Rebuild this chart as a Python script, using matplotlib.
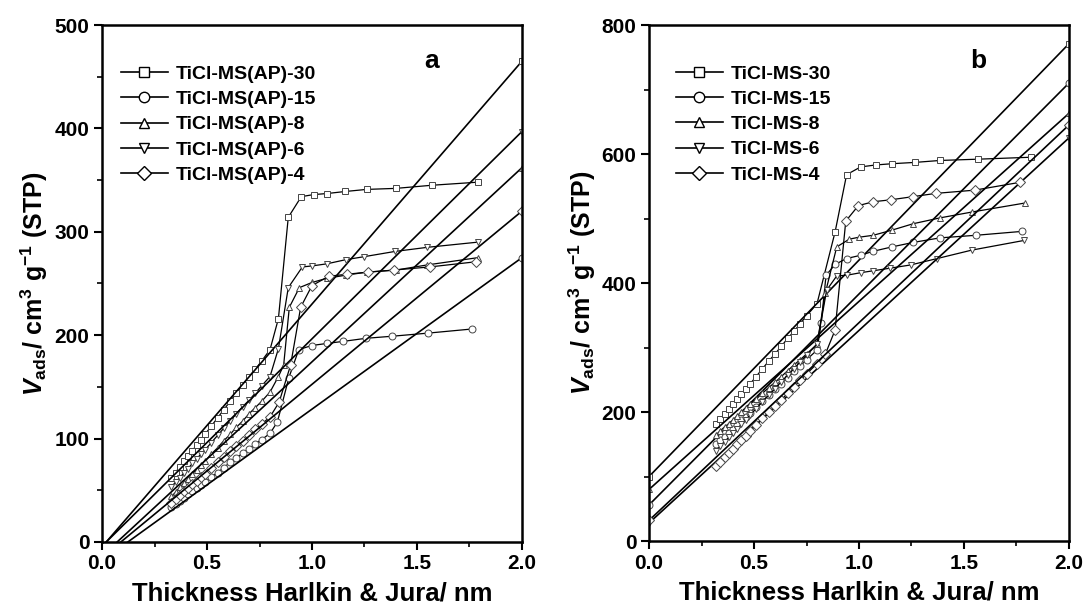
import matplotlib
matplotlib.use('Agg')
import matplotlib.pyplot as plt
from matplotlib.lines import Line2D
from matplotlib.ticker import MultipleLocator

plt.rcParams['font.family'] = ['Liberation Sans', 'DejaVu Sans']
plt.rcParams['font.weight'] = 'bold'
plt.rcParams['mathtext.fontset'] = 'custom'
plt.rcParams['mathtext.rm'] = 'Liberation Sans:bold'
plt.rcParams['mathtext.it'] = 'Liberation Sans:italic:bold'
plt.rcParams['mathtext.bf'] = 'Liberation Sans:bold'

markers = ['s', 'o', '^', 'v', 'D']
labels_a = ['TiCl-MS(AP)-30', 'TiCl-MS(AP)-15', 'TiCl-MS(AP)-8', 'TiCl-MS(AP)-6', 'TiCl-MS(AP)-4']
labels_b = ['TiCl-MS-30', 'TiCl-MS-15', 'TiCl-MS-8', 'TiCl-MS-6', 'TiCl-MS-4']

# ---- panel a: t-plot data (series order 30, 15, 8, 6, 4)
t_low_a = [0.33, 0.35, 0.37, 0.39, 0.41, 0.43, 0.45, 0.47, 0.49, 0.52,
           0.55, 0.58, 0.61, 0.64, 0.67, 0.70, 0.73, 0.76, 0.80]
a30_low = [62, 67, 73, 78, 83, 88, 94, 99, 104, 112, 120, 128, 136, 144, 152, 160, 167, 175, 186]
a30_t = [0.84, 0.887, 0.949, 1.008, 1.071, 1.159, 1.26, 1.40, 1.57, 1.79]
a30_v = [216, 314, 334, 336, 337, 339, 341, 342, 345, 348]
a15_low = [34, 37, 40, 43, 46, 49, 52, 55, 58, 63, 67, 72, 77, 81, 86, 90, 95, 99, 105]
a15_t = [0.835, 0.89, 0.937, 0.998, 1.07, 1.148, 1.257, 1.382, 1.552, 1.762]
a15_v = [116, 159, 186, 190, 192, 194, 197, 199, 202, 206]
a8_low = [44, 48, 53, 57, 61, 66, 70, 74, 78, 85, 91, 98, 104, 111, 117, 124, 130, 136, 145]
a8_t = [0.84, 0.865, 0.892, 0.94, 1.0, 1.07, 1.16, 1.26, 1.40, 1.55, 1.79]
a8_v = [160, 171, 227, 246, 251, 255, 258, 261, 263, 268, 275]
a6_low = [53, 58, 62, 67, 71, 76, 80, 85, 89, 96, 103, 110, 117, 124, 131, 137, 144, 151, 160]
a6_t = [0.84, 0.887, 0.954, 1.0, 1.07, 1.16, 1.25, 1.395, 1.55, 1.79]
a6_v = [187, 246, 266, 267, 269, 273, 276, 281, 285, 290]
a4_low = [38, 42, 45, 49, 52, 56, 59, 63, 66, 72, 77, 82, 88, 93, 98, 103, 109, 114, 121]
a4_t = [0.843, 0.898, 0.946, 1.0, 1.08, 1.168, 1.268, 1.39, 1.56, 1.78]
a4_v = [135, 171, 227, 248, 257, 259, 261, 263, 266, 271]
fit_x = [0.0, 2.0]
fit_a_start = [-4.7, -18, -13.5, -4, -15]
fit_a_end = [465, 275, 362, 397, 320]

# ---- panel b
t_low_b = [0.32, 0.34, 0.36, 0.38, 0.40, 0.42, 0.44, 0.46, 0.48, 0.51,
           0.54, 0.57, 0.60, 0.63, 0.66, 0.69, 0.72, 0.75, 0.80]
b30_low = [181, 189, 197, 204, 212, 220, 228, 236, 243, 255, 267, 279, 290, 302, 314, 325, 337, 349, 368]
b30_t = [0.886, 0.941, 1.008, 1.079, 1.159, 1.267, 1.386, 1.568, 1.819]
b30_v = [479, 568, 580, 583, 585, 587, 590, 592, 595]
b15_low = [150, 156, 162, 168, 174, 180, 187, 193, 199, 208, 217, 226, 235, 244, 253, 263, 272, 281, 296]
b15_t = [0.82, 0.843, 0.887, 0.941, 1.008, 1.065, 1.157, 1.259, 1.386, 1.557, 1.775]
b15_v = [338, 412, 429, 438, 443, 449, 456, 463, 470, 474, 480]
b8_low = [165, 171, 177, 182, 188, 194, 200, 206, 212, 220, 229, 238, 246, 255, 264, 273, 281, 290, 305]
b8_t = [0.84, 0.894, 0.954, 1.0, 1.068, 1.157, 1.259, 1.386, 1.537, 1.79]
b8_v = [385, 456, 468, 471, 474, 482, 492, 501, 510, 524]
b6_low = [140, 147, 154, 161, 168, 174, 181, 188, 195, 205, 216, 226, 236, 247, 257, 267, 278, 288, 305]
b6_t = [0.846, 0.894, 0.941, 1.008, 1.068, 1.148, 1.246, 1.373, 1.537, 1.786]
b6_v = [389, 411, 412, 416, 419, 423, 428, 438, 451, 466]
b4_low = [117, 123, 130, 137, 143, 150, 156, 163, 170, 180, 190, 200, 209, 219, 229, 239, 249, 259, 275]
b4_t = [0.84, 0.886, 0.937, 0.997, 1.068, 1.151, 1.259, 1.367, 1.552, 1.765]
b4_v = [290, 327, 496, 520, 526, 529, 534, 539, 544, 556]
fit_b_start = [100, 56, 80, 28, 32]
fit_b_end = [771, 710, 663, 625, 645]

series_a = [(a30_low, a30_t, a30_v), (a15_low, a15_t, a15_v), (a8_low, a8_t, a8_v),
            (a6_low, a6_t, a6_v), (a4_low, a4_t, a4_v)]
series_b = [(b30_low, b30_t, b30_v), (b15_low, b15_t, b15_v), (b8_low, b8_t, b8_v),
            (b6_low, b6_t, b6_v), (b4_low, b4_t, b4_v)]

fig = plt.figure(figsize=(10.89, 6.07), dpi=100)
ax_a = fig.add_axes([0.0937, 0.1071, 0.3856, 0.8517])
ax_b = fig.add_axes([0.5960, 0.1087, 0.3856, 0.8501])

mec = '#444444'


def draw_panel(ax, t_low, series, starts, ends, labels, ymax, ymajor, tag, legx):
    for m, (low, th, vh), y0, y1 in zip(markers, series, starts, ends):
        ax.plot(t_low + th, low + vh, color='black', lw=0.9, marker=m, ms=5,
                mfc='white', mec=mec, mew=0.7)
        ax.plot(fit_x, [y0, y1], color='black', lw=1.2, marker=m, ms=5,
                mfc='white', mec=mec, mew=0.7)
    ax.set_xlim(0, 2.0)
    ax.set_ylim(0, ymax)
    ax.xaxis.set_major_locator(MultipleLocator(0.5))
    ax.xaxis.set_minor_locator(MultipleLocator(0.25))
    ax.yaxis.set_major_locator(MultipleLocator(ymajor))
    ax.yaxis.set_minor_locator(MultipleLocator(ymajor / 2))
    ax.tick_params(which='major', direction='out', length=6, width=1.5, labelsize=15, pad=3)
    ax.tick_params(which='minor', direction='out', length=3.5, width=1.2)
    for s in ax.spines.values():
        s.set_linewidth(1.8)
    ax.set_xlabel('Thickness Harlkin & Jura/ nm', fontsize=18.5, fontweight='bold', labelpad=6)
    ax.set_ylabel(r'$V_{\mathrm{ads}}$/ cm$^{3}$ g$^{-1}$ (STP)', fontsize=18,
                  fontweight='bold', labelpad=3)
    handles = [Line2D([], [], color='black', lw=1.2, marker=m, ms=7.5, mfc='white',
                      mec='black', mew=1.0) for m in markers]
    ax.legend(handles, labels, loc='upper left', frameon=False,
              bbox_to_anchor=(legx, 0.922),
              borderaxespad=0, borderpad=0, handlelength=2.4, handletextpad=0.4,
              labelspacing=0.39, prop={'weight': 'bold', 'size': 14})
    ax.text(0.785, 0.93, tag, transform=ax.transAxes, fontsize=19,
            fontweight='bold', ha='center', va='center')


draw_panel(ax_a, t_low_a, series_a, fit_a_start, fit_a_end, labels_a, 500, 100, 'a', 0.045)
draw_panel(ax_b, t_low_b, series_b, fit_b_start, fit_b_end, labels_b, 800, 200, 'b', 0.064)

fig.savefig('out.png', dpi=100)
